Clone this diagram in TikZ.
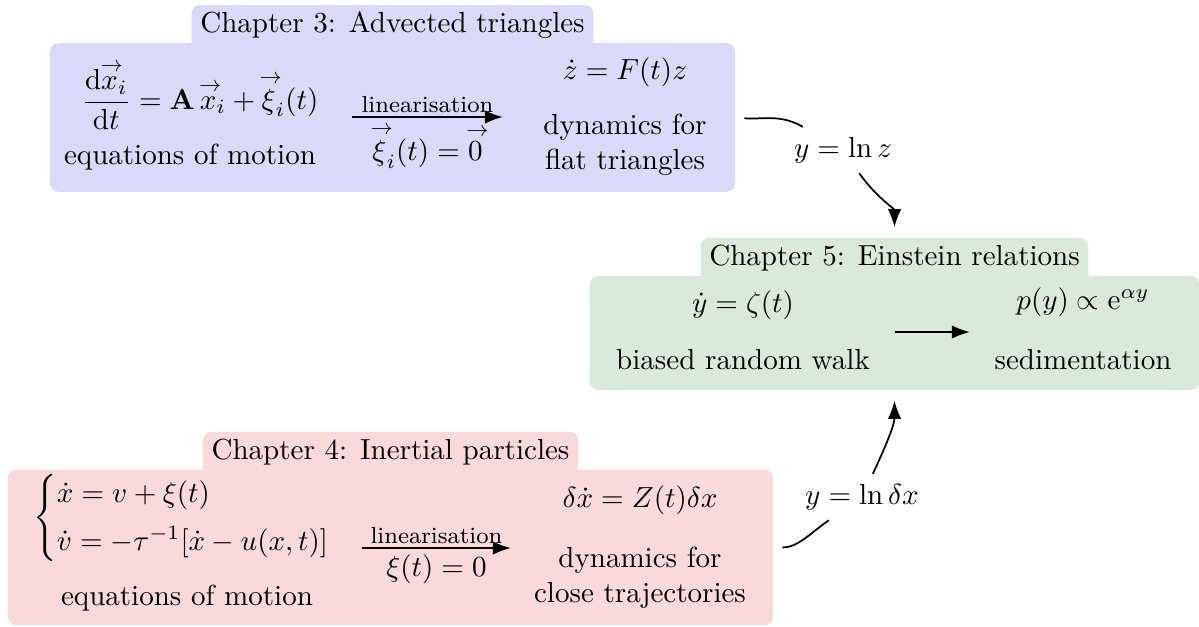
\documentclass[tikz,border=0pt]{standalone}
\usepackage{amsmath}
\usetikzlibrary{arrows.meta, positioning}
\definecolor{chapBlue}{HTML}{DADAF8}
\definecolor{chapGreen}{HTML}{D9EAD9}
\definecolor{chapRed}{HTML}{F9D9D9}
% arrow over a symbol
\newcommand{\vecarr}[1]{\mathord{\overset{\makebox[0pt]{\kern1.4pt\resizebox{7.6pt}{!}{$\rightarrow$}}}{#1}}}
\tikzset{
  chapBox/.style={rectangle, rounded corners=3pt, inner sep=0pt},
  chapTab/.style={rectangle, rounded corners=3pt, inner xsep=3pt, inner ysep=2.5pt,
                  text height=6.9pt, text depth=4pt},
  arrowIn/.style={-{Latex[length=2.2mm]}, thick},
  linkLine/.style={semithick},
  arrowOut/.style={-{Latex[length=2.2mm]}, semithick, shorten >=3.5pt},
  linLabel/.style={font=\footnotesize, inner sep=1pt},
}

\begin{document}
\begin{tikzpicture}[x=0.0121cm, y=-0.0121cm]
  \useasboundingbox (0,0) rectangle (1199,626);

  % Chapter 3
  \node[chapBox, fill=chapBlue, minimum width=8.29cm, minimum height=1.8cm] (ch3) at (392.5,117.5) {};
  \node[chapTab, fill=chapBlue, above=-3.2pt of ch3] (ch3tab) {Chapter 3: Advected triangles};
  \node (eom3) at (200,95) {$\dfrac{\mathrm{d}\vecarr{x}_i}{\mathrm{d}t} = \mathbf{A}\,\vecarr{x}_i + \vecarr{\xi}_i(t)$};
  \node (eom3txt) at (190,157) {equations of motion};
  \node (flat3) at (625,72) {$\dot z = F(t)z$};
  \node[align=center] (flat3txt) at (625,145) {dynamics for\\flat triangles};
  \coordinate (lin3a) at (352,117);
  \coordinate (lin3b) at (503,117);
  \draw[arrowIn] (lin3a) -- node[above, linLabel] {linearisation}
    node[below, inner sep=2pt] {$\vecarr{\xi}_i(t) = \vecarr{0}$} (lin3b);

  % Chapter 5
  \node[chapBox, fill=chapGreen, minimum width=7.38cm, minimum height=1.38cm] (ch5) at (894.5,333) {};
  \node[chapTab, fill=chapGreen, above=-3.2pt of ch5] (ch5tab) {Chapter 5: Einstein relations};
  \node (walk5) at (743,305) {$\dot y = \zeta(t)$};
  \node (walk5txt) at (743,360) {biased random walk};
  \node (sed5) at (1083,302) {$p(y) \propto \mathrm{e}^{\alpha y}$};
  \node (sed5txt) at (1083,360) {sedimentation};
  \coordinate (lin5a) at (895,332);
  \coordinate (lin5b) at (970,332);
  \draw[arrowIn] (lin5a) -- (lin5b);

  % Chapter 4
  \node[chapBox, fill=chapRed, minimum width=9.26cm, minimum height=1.88cm] (ch4) at (390.5,547.5) {};
  \node[chapTab, fill=chapRed, above=-3.2pt of ch4] (ch4tab) {Chapter 4: Inertial particles};
  \node (eom4) at (197,518) {$\begin{cases} \dot x = v + \xi(t)\\[2pt] \dot v = -\tau^{-1}[\dot x - u(x,t)]\end{cases}$};
  \node (eom4txt) at (187,598) {equations of motion};
  \node (close4) at (640,500) {$\delta\dot x = Z(t)\delta x$};
  \node[align=center] (close4txt) at (640,578) {dynamics for\\close trajectories};
  \coordinate (lin4a) at (362,548);
  \coordinate (lin4b) at (511,548);
  \draw[arrowIn] (lin4a) -- node[above, linLabel] {linearisation}
    node[below, inner sep=2pt] {$\xi(t) = 0$} (lin4b);

  % links between chapters
  \node (lnz) at (843,150) {$y = \ln z$};
  \node (lndx) at (862,497) {$y = \ln \delta x$};
  \draw[linkLine, shorten <=3pt] (ch3.east) to[out=-5, in=150] (lnz);
  \draw[arrowOut] (lnz) to[out=-55, in=90] (ch5tab.north);
  \draw[linkLine, shorten <=3pt] (ch4.east) to[out=0, in=215] (lndx);
  \draw[arrowOut] (lndx) to[out=65, in=-90] (ch5.south);
\end{tikzpicture}
\end{document}
